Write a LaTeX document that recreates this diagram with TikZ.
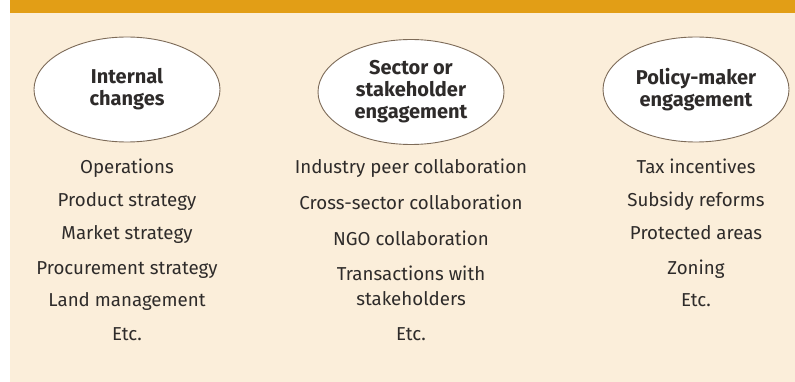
\documentclass[tikz,border=0pt]{standalone}
\usepackage{fontspec}
\setmainfont{Fira Sans}
\usetikzlibrary{
  shapes.geometric, % ellipse
  positioning,
}
\definecolor{barorange}{HTML}{E29E16}
\definecolor{panelbeige}{HTML}{FBEEDA}
\definecolor{ringbrown}{HTML}{7D6B58}
\definecolor{txtgrey}{HTML}{2E2B2A}
\def\mycolA{127}
\def\mycolB{411}
\def\mycolC{696}
\tikzset{
  lever/.style={
    ellipse,
    draw=ringbrown,
    fill=white,
    line width=0.9pt,
    minimum width=186pt,
    minimum height=105pt,
    inner sep=0pt,
    align=center,
    text=txtgrey,
    font=\fontsize{20}{22}\selectfont\bfseries
  },
  item/.style={
    anchor=base,
    align=center,
    inner sep=0pt,
    text=txtgrey,
    font=\fontsize{18.7}{24.3}\selectfont
  }
}
\begin{document}
\begin{tikzpicture}[x=1pt,y=-1pt]
\useasboundingbox (0,0) rectangle (795,382);
\fill[panelbeige] (10,0) rectangle (795,382);
\fill[barorange]  (10,0) rectangle (795,13.5);
% the three levers
\node[lever] (internal) at (\mycolA,89.5) {Internal\\changes};
\node[lever] (sector)   at (\mycolB,92)   {Sector or\\stakeholder\\engagement};
\node[lever] (policy)   at (\mycolC,89.5) {Policy-maker\\engagement};
% internal changes
\node[item] (oper) at (\mycolA,173.3) {Operations};
\node[item] (prod) at (\mycolA,206.7) {Product strategy};
\node[item] (mark) at (\mycolA,240)   {Market strategy};
\node[item] (proc) at (\mycolA,274)   {Procurement strategy};
\node[item] (land) at (\mycolA,306.7) {Land management};
\node[item] (etcA) at (\mycolA,340.7) {Etc.};
% sector or stakeholder engagement
\node[item] (peer)  at (\mycolB,173.3) {Industry peer collaboration};
\node[item] (cross) at (\mycolB,209.3) {Cross-sector collaboration};
\node[item] (ngo)   at (\mycolB,245)   {NGO collaboration};
\node[item] (trans) at (\mycolB,305)   {Transactions with\\stakeholders};
\node[item] (etcB)  at (\mycolB,340.7) {Etc.};
% policy-maker engagement
\node[item] (tax)     at (\mycolC,173.3) {Tax incentives};
\node[item] (subsidy) at (\mycolC,206.7) {Subsidy reforms};
\node[item] (protect) at (\mycolC,240)   {Protected areas};
\node[item] (zoning)  at (\mycolC,274)   {Zoning};
\node[item] (etcC)    at (\mycolC,306.7) {Etc.};
\end{tikzpicture}
\end{document}
